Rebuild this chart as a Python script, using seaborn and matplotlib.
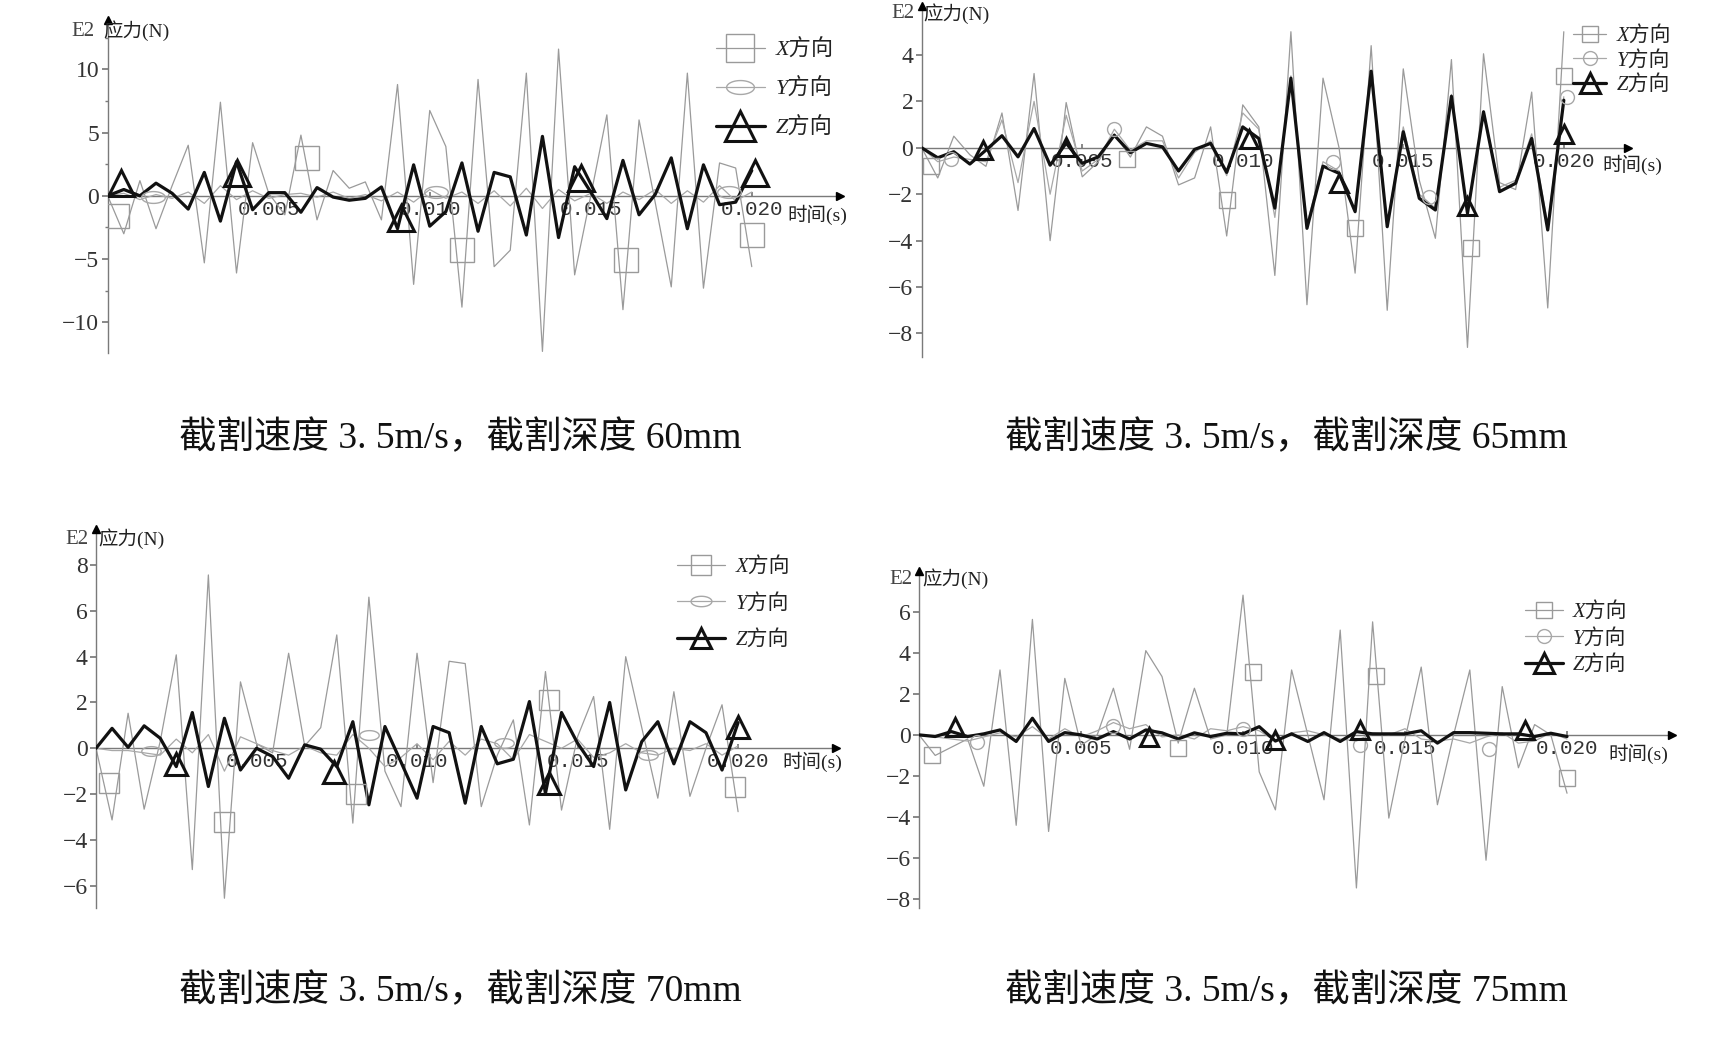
import numpy as np
import pandas as pd
import matplotlib
matplotlib.use("Agg")
import matplotlib.pyplot as plt
import seaborn as sns
from matplotlib.lines import Line2D
from matplotlib.path import Path
from matplotlib.ticker import FixedLocator, MultipleLocator

# ---------------- data ----------------
time_s = [round(i * 0.0005, 4) for i in range(41)]
xticks_t = [0.005, 0.010, 0.015, 0.020]
xtick_labels = ["0.005", "0.010", "0.015", "0.020"]
legend_labels = ["X方向", "Y方向", "Z方向"]
captions = ["截割速度 3. 5m/s，截割深度 60mm", "截割速度 3. 5m/s，截割深度 65mm",
            "截割速度 3. 5m/s，截割深度 70mm", "截割速度 3. 5m/s，截割深度 75mm"]

# depth 60 mm
x60 = [0, -3.0, 1.2, -2.6, 0.8, 4.0, -5.3, 7.4, -6.1, 4.2, 0.2, -1.5, 4.8, -1.9, 2.0, 0.6, 1.1, -1.9, 8.8, -7.0,
       6.75, 3.9, -8.8, 9.2, -5.6, -4.3, 9.7, -12.3, 11.6, -6.25, 0.0, 6.4, -9.0, 6.0, -0.5, -7.2, 9.7, -7.3, 2.6, 2.2, -5.6]
y60 = [0, 0.2, -0.3, 0.1, -0.2, 0.3, -0.6, 0.8, -0.3, 0.4, -0.2, 0.1, 0.2, -0.1, 0.3, -0.2, 0.1, -0.4, 0.3, -0.5,
       0.5, -0.2, 0.3, -0.6, 0.4, -0.8, 0.6, -1.0, 0.5, -0.4, 0.2, -0.6, 0.3, -0.3, 0.5, -0.6, 0.4, -0.5, 0.8, -0.4, 0.3]
z60 = [0, 0.5, 0.0, 1.0, 0.2, -1.05, 1.85, -2.0, 2.7, -1.1, 0.25, 0.25, -1.3, 0.65, -0.1, -0.35, -0.2, 0.7, -2.6, 2.45,
       -2.4, -1.25, 2.6, -2.8, 1.85, 1.5, -3.1, 4.7, -3.3, 2.3, 0.3, -1.8, 2.8, -1.5, 0.1, 3.0, -2.6, 2.45, -0.7, -0.5, 2.0]
sq60_t = [0.0003, 0.0062, 0.0110, 0.0161, 0.0200]
sq60_v = [-1.6, 3.0, -4.25, -5.1, -3.1]
ci60_t = [0.0014, 0.0102, 0.0193]
ci60_v = [-0.1, 0.3, 0.3]
tr60_t = [0.0004, 0.0040, 0.0091, 0.0147, 0.0201]
tr60_v = [1.0, 1.8, -1.75, 1.4, 1.8]

# depth 65 mm
x65 = [0, -1.3, 0.5, -0.3, -0.8, 1.5, -2.7, 3.2, -4.0, 1.95, -1.25, -0.6, 0.6, -0.4, 0.9, 0.5, -1.6, -1.3, 0.9, -3.8,
       1.85, 0.9, -5.5, 5.0, -6.76, 3.0, 0.0, -5.4, 4.4, -7.0, 3.4, -1.4, -3.9, 3.8, -8.6, 4.05, -1.5, -1.8, 2.4, -6.9, 5.0]
y65 = [0, -0.6, -0.4, -0.5, -0.6, 1.2, -1.5, 2.0, -2.0, 1.4, -1.0, -0.5, 0.8, -0.1, 0.3, 0.3, -1.3, -0.2, 0.3, -1.2,
       1.5, 0.8, -3.0, 3.1, -3.3, -0.6, -1.0, -2.8, 3.3, -3.3, 0.9, -2.0, -2.6, 2.3, -2.9, 1.6, -1.7, -1.4, 0.6, -3.3, 2.2]
z65 = [0, -0.43, -0.17, -0.7, -0.1, 0.52, -0.39, 0.83, -0.75, 0.2, -0.67, -0.39, 0.54, -0.21, 0.19, 0.04, -1.0, -0.07,
       0.19, -1.06, 0.9, 0.4, -2.6, 3.0, -3.47, -0.79, -1.1, -2.75, 3.3, -3.4, 0.69, -2.18, -2.68, 2.22, -2.82, 1.55,
       -1.89, -1.53, 0.4, -3.54, 2.05]
sq65_t = [0.0003, 0.0064, 0.0095, 0.0135, 0.0171, 0.0200]
sq65_v = [-0.8, -0.5, -2.25, -3.45, -4.3, 3.1]
ci65_t = [0.0009, 0.0060, 0.0128, 0.0158, 0.0201]
ci65_v = [-0.5, 0.83, -0.6, -2.1, 2.2]
tr65_t = [0.0019, 0.0045, 0.0102, 0.0130, 0.0170, 0.0200]
tr65_v = [-0.1, 0.05, 0.4, -1.5, -2.5, 0.6]

# depth 70 mm
x70 = [0, -3.13, 1.53, -2.66, 0.3, 4.08, -5.3, 7.57, -6.55, 2.9, 0.2, -0.2, 4.15, 0.1, 0.9, 4.95, -3.27, 6.6, -1.0,
       -2.55, 4.15, -1.5, 3.8, 3.7, -2.55, -0.3, 1.24, -3.35, 3.35, -2.7, 0.5, 2.26, -3.54, 4.0, 0.9, -2.18, 2.47,
       -2.1, 0.0, 1.9, -2.77]
y70 = [0, -0.1, -0.1, -0.2, -0.3, 0.4, -0.2, 0.6, -1.0, 0.5, 0.2, -0.1, -0.3, 0.1, -0.2, -0.3, 0.6, 0.0, -0.8, -0.4,
       0.2, -0.5, 0.3, -0.3, 0.4, 0.2, -0.5, 0.6, 0.3, 0.0, 0.4, -0.4, -0.2, 0.2, -0.2, -0.3, 0.0, -0.1, 0.2, -0.3, 0.1]
z70 = [0, 0.87, 0.04, 0.98, 0.44, -0.8, 1.56, -1.67, 1.31, -0.95, 0.0, -0.36, -1.31, 0.15, -0.04, -0.8, 1.16, -2.47,
       0.95, -0.6, -2.18, 0.95, 0.68, -2.4, 0.95, -0.68, -0.48, 2.04, -1.97, 1.56, 0.22, -0.8, 2.0, -1.82, 0.29, 1.16,
       -0.68, 1.16, 0.68, -0.95, 1.12]
sq70_t = [0.0004, 0.0040, 0.0081, 0.0141, 0.0199]
sq70_v = [-1.5, -3.2, -2.0, 2.1, -1.7]
ci70_t = [0.0017, 0.0085, 0.0127, 0.0172]
ci70_v = [-0.1, 0.6, 0.25, -0.3]
tr70_t = [0.0025, 0.0074, 0.0141, 0.0200]
tr70_v = [-0.7, -1.05, -1.5, 0.95]

# depth 75 mm
x75 = [0, -1.0, -0.6, -0.2, -2.5, 3.16, -4.4, 5.62, -4.7, 2.75, -0.5, 0.0, 2.27, -0.7, 4.1, 2.84, -0.4, 2.27, -0.2,
       0.0, 6.8, -1.8, -3.65, 3.16, 0.0, -3.16, 5.1, -7.45, 5.5, -4.05, -0.2, 3.3, -3.4, 0.0, 3.16, -6.1, 2.35, -1.6,
       0.5, 0.0, -2.84]
y75 = [0, -0.1, -0.2, -0.3, -0.1, 0.1, -0.1, 0.4, -0.2, 0.3, -0.1, 0.2, 0.6, 0.3, 0.5, -0.1, 0.0, -0.2, 0.3, 0.2,
       0.4, 0.2, -0.3, 0.1, 0.2, 0.0, -0.2, -0.3, 0.1, 0.0, 0.3, -0.2, -0.3, -0.2, -0.4, -0.1, 0.1, -0.4, -0.3, 0.1, -0.2]
z75 = [0, -0.08, 0.16, -0.08, 0.05, 0.24, -0.32, 0.81, -0.32, 0.11, 0.0, -0.2, 0.16, -0.2, 0.24, 0.1, -0.2, 0.1,
       -0.08, 0.08, 0.05, 0.4, -0.3, 0.05, -0.32, 0.11, -0.32, 0.16, 0.05, 0.05, 0.05, 0.2, -0.4, 0.11, 0.11, 0.08,
       0.05, 0.05, -0.08, 0.08, -0.08]
sq75_t = [0.0004, 0.0080, 0.0103, 0.0141, 0.0200]
sq75_v = [-0.97, -0.65, 3.08, 2.87, -2.1]
ci75_t = [0.0018, 0.0060, 0.0100, 0.0136, 0.0176]
ci75_v = [-0.37, 0.43, 0.27, -0.5, -0.7]
tr75_t = [0.0011, 0.0071, 0.0110, 0.0136, 0.0187]
tr75_v = [0.4, -0.08, -0.24, 0.26, 0.26]

# ---------------- style ----------------
sns.set_theme(style="white")
plt.rcParams["font.family"] = ["Liberation Serif", "Noto Sans CJK SC", "DejaVu Sans"]
plt.rcParams["axes.unicode_minus"] = True

W, H = 1727, 1039
fig = plt.figure(figsize=(W / 100, H / 100), dpi=100)
fig.patch.set_facecolor("white")


def fx(px):
    return px / W


def fy(py):
    return 1 - py / H


ang = np.linspace(0, 2 * np.pi, 64)
ellipse = Path(np.column_stack([np.cos(ang), 0.5 * np.sin(ang)]), closed=True)

CX, CY, CZ = "#9a9a9a", "#a8a8a8", "#111111"
AX = "#7a7a7a"
CJK = ["Liberation Serif", "Noto Sans CJK SC"]

panels = [
    dict(x=x60, y=y60, z=z60, sq=(sq60_t, sq60_v), ci=(ci60_t, ci60_v), tr=(tr60_t, tr60_v),
         box=(107.7, 20, 840, 353.3), xmax=0.02274, ylim=(-12.45, 13.9), yticks=[-10, -5, 0, 5, 10], minor=2.5,
         ms=(17, 17, 19), cim=ellipse, leg=(716, 40, 16, 2.2, 0.8), lms=(20, 20, 22),
         e2=(97, 31), tl=(787, 215), cap=(460, 438)),
    dict(x=x65, y=y65, z=z65, sq=(sq65_t, sq65_v), ci=(ci65_t, ci65_v), tr=(tr65_t, tr65_v),
         box=(921.7, 5.5, 1628, 356.7), xmax=0.02200, ylim=(-9.0, 6.13), yticks=[-8, -6, -4, -2, 0, 2, 4], minor=None,
         ms=(11, 10, 13), cim="o", leg=(1573, 26, 15, 1.6, 0.22), lms=(12, 10, 14),
         e2=(917, 14), tl=(1602, 165), cap=(1286, 438)),
    dict(x=x70, y=y70, z=z70, sq=(sq70_t, sq70_v), ci=(ci70_t, ci70_v), tr=(tr70_t, tr70_v),
         box=(96, 528.7, 836, 908.3), xmax=0.02305, ylim=(-6.99, 9.59), yticks=[-6, -4, -2, 0, 2, 4, 6, 8], minor=None,
         ms=(14, 14, 16), cim=ellipse, leg=(677, 557, 15, 2.3, 0.8), lms=(14, 15, 15),
         e2=(92, 539), tl=(782, 762), cap=(460, 991)),
    dict(x=x75, y=y75, z=z75, sq=(sq75_t, sq75_v), ci=(ci75_t, ci75_v), tr=(tr75_t, tr75_v),
         box=(919, 570.5, 1672, 908.3), xmax=0.02324, ylim=(-8.44, 8.0), yticks=[-8, -6, -4, -2, 0, 2, 4, 6], minor=None,
         ms=(11, 10, 13), cim="o", leg=(1525, 602, 15, 1.8, 0.32), lms=(12, 10, 14),
         e2=(916, 579), tl=(1608, 754), cap=(1286, 991)),
]

for k, p in enumerate(panels):
    l, t, r, b = p["box"]
    ax = fig.add_axes([fx(l), fy(b), (r - l) / W, (b - t) / H])
    ax.set_facecolor("white")
    df = pd.DataFrame({"t": time_s, "X": p["x"], "Y": p["y"], "Z": p["z"]})

    sns.lineplot(data=df, x="t", y="X", ax=ax, color=CX, lw=0.9, estimator=None, sort=False, zorder=2)
    sns.lineplot(data=df, x="t", y="Y", ax=ax, color=CY, lw=0.9, estimator=None, sort=False, zorder=2.5)
    sns.lineplot(data=df, x="t", y="Z", ax=ax, color=CZ, lw=2.3, estimator=None, sort=False, zorder=3)

    ms_sq, ms_ci, ms_tr = p["ms"]
    ax.plot(p["sq"][0], p["sq"][1], ls="none", marker="s", ms=ms_sq, mfc="none", mec=CX, mew=1.0, zorder=4)
    ax.plot(p["ci"][0], p["ci"][1], ls="none", marker=p["cim"], ms=ms_ci, mfc="none", mec=CY, mew=1.0, zorder=4)
    ax.plot(p["tr"][0], p["tr"][1], ls="none", marker="^", ms=ms_tr, mfc="none", mec=CZ, mew=2.2, zorder=5)

    ax.set_xlim(0, p["xmax"])
    ax.set_ylim(*p["ylim"])
    ax.set_xlabel("")
    ax.set_ylabel("")
    for s in ["top", "right"]:
        ax.spines[s].set_visible(False)
    ax.spines["left"].set_color(AX)
    ax.spines["left"].set_linewidth(1.0)
    ax.spines["bottom"].set_position(("data", 0))
    ax.spines["bottom"].set_color(AX)
    ax.spines["bottom"].set_linewidth(1.0)
    ax.spines["bottom"].set_zorder(1)

    ax.xaxis.set_major_locator(FixedLocator(xticks_t))
    ax.set_xticklabels(xtick_labels, fontfamily="Liberation Mono", fontsize=15, color="#333333")
    ax.tick_params(axis="x", direction="in", length=3, color=AX, pad=3, bottom=True)
    ax.yaxis.set_major_locator(FixedLocator(p["yticks"]))
    ax.set_yticklabels([f"{v:g}".replace("-", "\u2212") for v in p["yticks"]], fontsize=17, color="#333333")
    ax.tick_params(axis="y", direction="out", length=4, color=AX, pad=2, left=True)
    if p["minor"]:
        ax.yaxis.set_minor_locator(MultipleLocator(p["minor"]))
        ax.tick_params(axis="y", which="minor", direction="out", length=2.5, color=AX, left=True)

    # axis arrows
    ax.plot([0], [1], marker="^", ms=6, color="black", transform=ax.transAxes, clip_on=False, zorder=6)
    ax.plot([1], [0], marker=">", ms=6, color="black", transform=ax.get_yaxis_transform(), clip_on=False, zorder=6)

    # axis titles
    ex, ey = p["e2"]
    fig.text(fx(ex - 3), fy(ey), "E2", ha="right", va="center", fontsize=15, color="#444444")
    fig.text(fx(ex + 6), fy(ey), "应力(N)", ha="left", va="center", fontsize=14, color="#222222", family=CJK)
    tx, ty = p["tl"]
    fig.text(fx(tx), fy(ty), "时间(s)", ha="left", va="center", fontsize=14, color="#222222", family=CJK)

    # legend
    lx, ly, lfs, hl, ls_ = p["leg"]
    lsq, lci, ltr = p["lms"]
    handles = [
        Line2D([], [], color=CX, lw=0.9, marker="s", ms=lsq, mfc="none", mec=CX, mew=1.0),
        Line2D([], [], color=CY, lw=0.9, marker=p["cim"], ms=lci, mfc="none", mec=CY, mew=1.0),
        Line2D([], [], color=CZ, lw=2.3, marker="^", ms=ltr, mfc="none", mec=CZ, mew=2.2),
    ]
    leg = ax.legend(handles, legend_labels, loc="upper left", bbox_to_anchor=(fx(lx), fy(ly)),
                    bbox_transform=fig.transFigure, frameon=False, handlelength=hl,
                    prop=dict(family=CJK, style="italic", size=lfs),
                    handletextpad=0.5, labelspacing=ls_, borderpad=0, borderaxespad=0)
    for txt in leg.get_texts():
        txt.set_color("#222222")

    cx, cy = p["cap"]
    fig.text(fx(cx), fy(cy), captions[k], ha="center", va="center", fontsize=27, color="#111111", family=CJK)

fig.savefig("out.png", dpi=100, facecolor="white")
